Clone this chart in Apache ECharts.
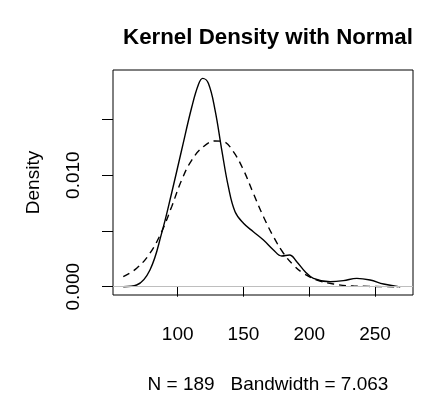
<!DOCTYPE html>
<html>
<head>
<meta charset="utf-8">
<script src="https://cdn.jsdelivr.net/npm/echarts@6/dist/echarts.min.js"></script>
<style>html,body{margin:0;padding:0;background:#fff}#c{width:435px;height:395px}</style>
</head>
<body>
<div id="c"></div>
<script>
// Kernel density estimate (solid line)
var kdeX = [58.6, 68.8, 78.9, 87.8, 95.4, 103.0, 110.7, 115.7, 119.0, 123.3, 128.4, 133.5, 138.5, 143.6, 150.0, 157.5, 165.2, 172.8, 179.1, 185.0, 190.5, 196.9, 203.2, 215.9, 226.0, 236.2, 246.3, 256.5, 267.9];
var kdeY = [0.0000, 0.00015, 0.0015, 0.0048, 0.0084, 0.01225, 0.0161, 0.0181, 0.01867, 0.01823, 0.01583, 0.01225, 0.00896, 0.00672, 0.00568, 0.00493, 0.00418, 0.00329, 0.00275, 0.00284, 0.00224, 0.00134, 0.00075, 0.00045, 0.00054, 0.00075, 0.0006, 0.00024, 0.0000];
// Normal density (dashed line)
var normX = [58.6, 68.8, 78.9, 87.8, 95.4, 103.0, 110.7, 119.5, 128.4, 134.7, 142.3, 150.0, 157.5, 165.2, 172.8, 180.4, 188.0, 195.6, 205.8, 218.5, 233.7, 269.2];
var normY = [0.0009, 0.00165, 0.0030, 0.00493, 0.00717, 0.00956, 0.01135, 0.01255, 0.01306, 0.0130, 0.0121, 0.01046, 0.00837, 0.00627, 0.00448, 0.0030, 0.00194, 0.0012, 0.0006, 0.00024, 0.00006, 0.0000];
// Ticks
var xTicks = [100, 150, 200, 250];
var yTicks = [0, 0.005, 0.010, 0.015];
var yLabels = [0, 0.010];
var xRange = [50.8, 278.9];
var yRange = [-0.000744, 0.01942];
var titleText = 'Kernel Density with Normal';
var xLabelText = 'N = 189   Bandwidth = 7.063';
var yLabelText = 'Density';

function pairs(xs, ys) { return xs.map(function (x, i) { return [x, ys[i]]; }); }

var font = 'Liberation Sans, Arial, Helvetica, sans-serif';
var chart = echarts.init(document.getElementById('c'), null, {renderer: 'canvas'});
chart.setOption({
  animation: false,
  backgroundColor: '#fff',
  title: [
    {text: titleText, left: 263, top: 22, textAlign: 'center',
     textStyle: {fontFamily: font, fontSize: 22.3, fontWeight: 'bold', color: '#000'}},
    {text: xLabelText, left: 263, top: 370, textAlign: 'center',
     textStyle: {fontFamily: font, fontSize: 19, fontWeight: 'normal', color: '#000'}}
  ],
  grid: {left: 113, right: 22, top: 70, bottom: 100, show: true, borderColor: '#000', borderWidth: 1, containLabel: false},
  xAxis: {
    type: 'value', min: xRange[0], max: xRange[1],
    axisLine: {show: false},
    splitLine: {show: false},
    axisTick: {show: true, length: 10, inside: false, customValues: xTicks, lineStyle: {color: '#000', width: 1}},
    axisLabel: {customValues: xTicks, margin: 30, fontFamily: font, fontSize: 19, color: '#000'}
  },
  yAxis: {
    type: 'value', min: yRange[0], max: yRange[1],
    name: yLabelText, nameLocation: 'middle', nameGap: 70, nameRotate: 90,
    nameTextStyle: {fontFamily: font, fontSize: 19, color: '#000'},
    axisLine: {show: false},
    splitLine: {show: false},
    axisTick: {show: true, length: 11, inside: false, customValues: yTicks, lineStyle: {color: '#000', width: 1}},
    axisLabel: {customValues: yLabels, rotate: 90, margin: 30, fontFamily: font, fontSize: 19, color: '#000',
      formatter: function (v) { return v.toFixed(3); }}
  },
  series: [
    {type: 'line', data: pairs(kdeX, kdeY), smooth: 0.4, showSymbol: false, silent: true,
     lineStyle: {color: '#000', width: 1.4},
     markLine: {silent: true, symbol: 'none', label: {show: false},
       lineStyle: {color: '#bebebe', width: 1, type: 'solid'}, data: [{yAxis: 0}]}},
    {type: 'line', data: pairs(normX, normY), smooth: 0.4, showSymbol: false, silent: true,
     lineStyle: {color: '#000', width: 1.4, type: [7, 5]}}
  ]
});
</script>
</body>
</html>
